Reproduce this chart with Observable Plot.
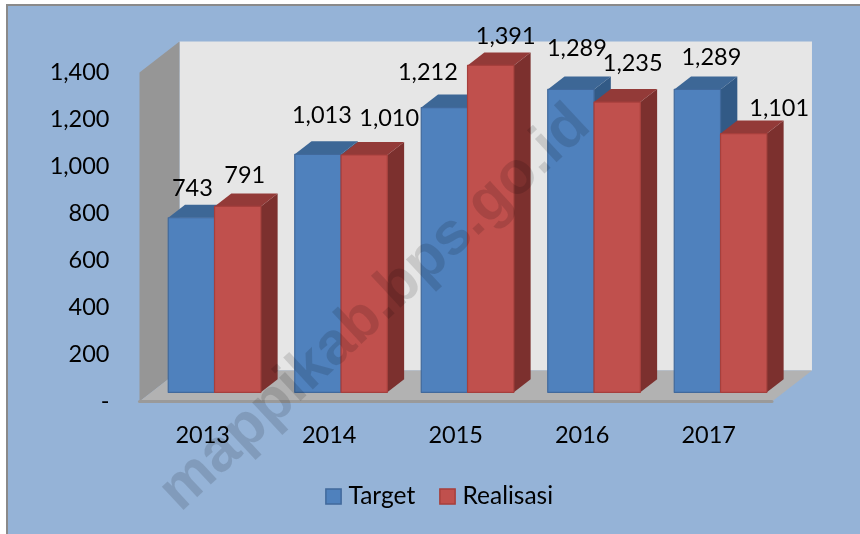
<!DOCTYPE html>
<html>
<head>
<meta charset="utf-8">
<script src="https://cdn.jsdelivr.net/npm/d3@7"></script>
<script src="https://cdn.jsdelivr.net/npm/@observablehq/plot@0.6"></script>
<style>
  html, body { margin: 0; padding: 0; background: #fff; width: 860px; height: 534px; overflow: hidden; }
  #panel { position: absolute; left: 6px; top: 4px; right: 0; bottom: 0; background: #95B3D7;
           border-left: 2px solid #8a8a8a; border-top: 2px solid #8a8a8a; }
  #chart { position: absolute; left: 0; top: 0; filter: blur(0.4px); }
  #chart svg { display: block; }
</style>
</head>
<body>
<div id="panel"></div>
<div id="chart"></div>
<script>
const years = ["2013", "2014", "2015", "2016", "2017"];
const seriesNames = ["Target", "Realisasi"];
const target = [743, 1013, 1212, 1289, 1289];
const realisasi = [791, 1010, 1391, 1235, 1101];
const yTicks = [0, 200, 400, 600, 800, 1000, 1200, 1400];
const watermark = "mappikab.bps.go.id";

// Label nudges in pixels, Target then Realisasi for each year
const labelNudge = {
  Target:    [[1, -29], [4, -39], [-16.5, -35], [6, -41], [14, -32]],
  Realisasi: [[7, -31], [25, -37], [15, -29], [15.5, -39], [35.5, -25]]
};

const colors = {
  Target:    {front: "#4F81BD", top: "#3D6796", side: "#325A86", edge: "#41699C"},
  Realisasi: {front: "#C0504D", top: "#933A38", side: "#7C302E", edge: "#A63F3C"}
};

const font = "Lato, Carlito, 'Open Sans', sans-serif";

// Oblique projection of the 3-D box, expressed in data units
const DX = 0.316;  // x units for full depth
const DY = 132;    // y units for full depth
const project = (x, v, z) => ({x: x + z * DX, y: v + z * DY});
const poly = (id, pts) => pts.map(([x, v, z]) => ({id, ...project(x, v, z)}));

const BAR_W = 0.366, GROUP_START = 0.134, Z0 = 0.295, Z1 = 0.715;

const faces = (values, s, k) => {
  const front = [], top = [], side = [];
  values.forEach((v, i) => {
    const a = i + GROUP_START + k * BAR_W, b = a + BAR_W;
    front.push(...poly(i, [[a,0,Z0],[b,0,Z0],[b,v,Z0],[a,v,Z0],[a,0,Z0]]));
    top.push(...poly(i, [[a,v,Z0],[b,v,Z0],[b,v,Z1],[a,v,Z1]]));
    side.push(...poly(i, [[b,0,Z0],[b,0,Z1],[b,v,Z1],[b,v,Z0]]));
  });
  const c = colors[s];
  return [
    Plot.line(side, {x: "x", y: "y", z: "id", fill: c.side, stroke: "none"}),
    Plot.line(top, {x: "x", y: "y", z: "id", fill: c.top, stroke: "none"}),
    Plot.line(front, {x: "x", y: "y", z: "id", fill: () => s, stroke: c.edge, strokeWidth: 1.2})
  ];
};

const labels = (values, s, k) => values.map((v, i) => {
  const p = project(i + GROUP_START + (k + 0.5) * BAR_W, v, Z0);
  return Plot.text([p], {
    x: "x", y: "y", text: () => d3.format(",")(v),
    dx: labelNudge[s][i][0], dy: labelNudge[s][i][1],
    fontSize: 23.5, fontFamily: font, fill: "#000", lineAnchor: "middle"
  });
});

const legendItem = (name, sx, tx) => [
  Plot.dot([name], {frameAnchor: "bottom-left", dx: sx, dy: 95, symbol: "square", r: 8.6,
                    fill: d => d, stroke: colors[name].edge, strokeWidth: 1.5}),
  Plot.text([name], {frameAnchor: "bottom-left", dx: tx, dy: 95, text: d => d, textAnchor: "start",
                     lineAnchor: "middle", fontSize: 24.5, fontFamily: font, fill: "#000"})
];

const plot = Plot.plot({
  width: 860, height: 534,
  marginLeft: 139, marginRight: 88.5, marginTop: 72, marginBottom: 133,
  style: {background: "transparent", overflow: "visible"},
  x: {type: "linear", domain: [0, 5]},
  y: {domain: [0, 1400]},
  color: {domain: seriesNames, range: [colors.Target.front, colors.Realisasi.front]},
  marks: [
    // back wall, side wall, floor
    Plot.line(poly("back", [[0,0,1],[5,0,1],[5,1400,1],[0,1400,1]]), {x:"x", y:"y", fill:"#E6E6E6", stroke:"none"}),
    Plot.line(poly("side", [[0,0,0],[0,1400,0],[0,1400,1],[0,0,1]]), {x:"x", y:"y", fill:"#969696", stroke:"none"}),
    Plot.line(poly("floor", [[0,0,0],[5,0,0],[5,0,1],[0,0,1]]), {x:"x", y:"y", fill:"#B2B2B2", stroke:"none"}),
    Plot.line(poly("edge", [[0,0,0],[5,0,0]]), {x:"x", y:"y", stroke:"#9A9A9A", strokeWidth: 3}),
    ...faces(target, "Target", 0),
    ...faces(realisasi, "Realisasi", 1),
    Plot.text([watermark], {
      frameAnchor: "top-left", dx: 440, dy: 42, text: d => d, textAnchor: "end", lineAnchor: "middle",
      rotate: -43, fontSize: 60, fontWeight: 700, fontFamily: "'Liberation Sans', sans-serif",
      fill: "#000", fillOpacity: 0.13
    }),
    ...labels(target, "Target", 0),
    ...labels(realisasi, "Realisasi", 1),
    Plot.axisY({ticks: yTicks, tickSize: 0, tickPadding: 30, label: null,
                tickFormat: d => d === 0 ? "-" : d3.format(",")(d),
                fontSize: 23.5, fontFamily: font, fill: "#000"}),
    Plot.axisX({ticks: years.map((d, i) => i + 0.5), tickSize: 0, tickPadding: 25, label: null,
                tickFormat: d => years[d - 0.5],
                fontSize: 23.5, fontFamily: font, fill: "#000"}),
    ...legendItem("Target", 194, 209),
    ...legendItem("Realisasi", 308, 323)
  ]
});
document.getElementById("chart").appendChild(plot);
</script>
</body>
</html>
